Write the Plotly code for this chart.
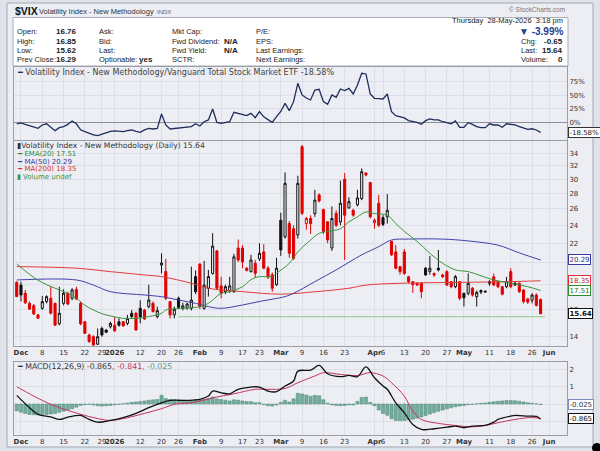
import numpy as np
import pandas as pd
import plotly.graph_objects as go

# trading calendar (NYSE holidays removed), Nov 28 2025 .. Jun 1 2026
holidays = ["2025-12-25", "2026-01-01", "2026-01-19", "2026-02-16", "2026-04-03", "2026-05-25"]
days = pd.bdate_range("2025-11-28", "2026-06-01")
days = days[~days.isin(pd.to_datetime(holidays))]

tick_dates = ["2025-12-01", "2025-12-08", "2025-12-15", "2025-12-22", "2025-12-29", "2026-01-02",
              "2026-01-12", "2026-01-20", "2026-01-26", "2026-02-02", "2026-02-09", "2026-02-17",
              "2026-02-23", "2026-03-02", "2026-03-09", "2026-03-16", "2026-03-23", "2026-04-01",
              "2026-04-06", "2026-04-13", "2026-04-20", "2026-04-27", "2026-05-01", "2026-05-11",
              "2026-05-18", "2026-05-26", "2026-06-01"]
tick_labels = ["<b>Dec</b>", "8", "15", "22", "29", "<b>2026</b>", "12", "20", "26", "<b>Feb</b>", "9", "17",
               "23", "<b>Mar</b>", "9", "16", "23", "<b>Apr</b>", "6", "13", "20", "27", "<b>May</b>", "11",
               "18", "26", "<b>Jun</b>"]

# daily VIX candles
opens = [18.2, 17.97, 17.27, 16.45, 16.27, 15.56, 16.06, 16.59, 16.86, 16.45, 14.9, 16.45, 17.27, 16.86,
         17.6, 16.45, 15.05, 14.12, 14.0, 13.5, 14.57, 14.46, 14.69, 14.8, 15.05, 15.05, 14.93, 15.68,
         15.68, 16.06, 15.93, 16.19, 16.45, 15.43, 19.8, 19.18, 16.59, 15.56, 16.86, 16.06, 16.1, 16.06,
         18.72, 19.9, 16.06, 17.7, 19.02, 21.2, 17.9, 17.41, 17.5, 17.41, 21.5, 21.5, 19.5, 19.18,
         19.97, 20.4, 21.1, 19.5, 18.9, 18.0, 24.6, 22.7, 24.2, 23.6, 22.9, 35.1, 24.2, 24.8,
         25.4, 27.8, 25.9, 24.4, 21.5, 25.43, 24.4, 30.0, 26.1, 25.8, 26.5, 27.3, 30.9, 29.5,
         24.3, 26.7, 24.9, 25.0, 22.2, 21.1, 19.65, 21.1, 18.7, 18.27, 18.12, 18.13, 19.5, 19.2,
         19.0, 19.5, 18.87, 19.18, 18.27, 17.83, 18.27, 17.27, 17.27, 17.7, 16.99, 17.5, 17.45, 18.27,
         18.7, 18.27, 17.83, 17.83, 19.18, 18.13, 18.13, 17.55, 16.8, 16.7, 17.13, 16.76]
highs = [18.3, 18.27, 17.55, 16.6, 16.4, 15.6, 17.05, 17.1, 17.83, 16.5, 17.83, 17.6, 17.4, 17.7,
         17.83, 16.6, 15.1, 14.2, 14.1, 14.57, 14.7, 14.5, 15.05, 15.4, 15.3, 15.1, 15.56, 15.93,
         15.8, 16.7, 16.0, 18.0, 16.6, 16.19, 20.96, 20.4, 16.6, 16.2, 17.0, 16.5, 16.5, 19.65,
         19.3, 19.95, 20.2, 19.34, 23.1, 21.3, 18.7, 18.0, 18.7, 20.9, 22.4, 21.8, 19.6, 20.8,
         20.3, 22.0, 21.9, 19.7, 19.1, 20.5, 25.5, 31.0, 24.5, 24.0, 30.5, 35.4, 25.0, 25.2,
         28.5, 28.0, 26.0, 24.5, 26.3, 25.8, 29.8, 30.9, 27.5, 26.0, 28.5, 31.6, 31.0, 29.6,
         24.8, 27.8, 25.2, 27.9, 22.2, 21.8, 19.7, 21.4, 18.8, 18.3, 18.2, 18.2, 19.6, 20.7,
         19.1, 21.3, 19.0, 19.3, 18.3, 18.87, 18.3, 17.3, 19.02, 17.8, 17.5, 17.6, 17.5, 18.4,
         19.0, 18.3, 17.9, 18.7, 19.5, 18.3, 18.2, 17.6, 16.9, 17.27, 17.27, 16.85]
lows = [16.95, 16.6, 16.4, 15.95, 15.55, 15.28, 15.94, 16.45, 15.6, 14.75, 14.8, 16.3, 16.3, 16.7,
        16.72, 14.8, 14.2, 13.6, 13.4, 13.45, 14.0, 14.25, 14.57, 14.35, 14.7, 14.7, 14.8, 15.3,
        14.4, 14.93, 15.2, 16.06, 15.75, 15.3, 19.0, 16.7, 15.3, 15.3, 16.0, 15.9, 15.95, 15.9,
        17.2, 16.0, 15.95, 17.0, 18.9, 17.55, 16.86, 17.2, 17.3, 17.3, 20.1, 19.5, 19.2, 19.1,
        18.6, 20.2, 19.4, 18.5, 17.4, 17.9, 20.7, 22.5, 20.5, 20.3, 22.5, 25.2, 23.5, 23.0,
        25.0, 26.8, 23.0, 22.0, 21.2, 23.8, 24.0, 20.3, 26.0, 25.0, 26.3, 27.1, 30.4, 24.8,
        23.6, 23.8, 23.9, 24.2, 20.7, 19.4, 18.9, 18.9, 18.1, 17.3, 17.9, 16.86, 18.8, 18.9,
        18.7, 19.2, 18.6, 17.9, 17.7, 17.7, 16.7, 16.2, 17.1, 17.0, 16.2, 17.2, 17.3, 17.9,
        17.9, 17.7, 17.1, 17.7, 17.7, 17.9, 17.3, 16.45, 16.4, 16.45, 16.2, 15.62]
closes = [17.0, 17.13, 16.5, 16.0, 15.63, 15.31, 16.59, 16.99, 15.68, 14.8, 15.68, 17.27, 16.4, 17.55,
          16.8, 14.9, 14.23, 13.67, 13.45, 14.0, 14.12, 14.3, 14.93, 14.4, 14.8, 14.75, 15.3, 15.43,
          14.46, 15.4, 15.25, 16.72, 15.8, 15.88, 20.0, 16.86, 15.56, 15.99, 16.14, 16.25, 16.4, 16.72,
          17.41, 16.19, 17.97, 18.72, 21.7, 17.7, 17.27, 17.83, 17.9, 20.6, 20.29, 20.1, 19.3, 20.29,
          19.02, 20.96, 19.5, 18.7, 17.7, 19.5, 21.3, 29.4, 20.96, 20.45, 29.4, 25.43, 24.8, 24.2,
          27.1, 27.0, 23.3, 22.35, 24.8, 24.0, 26.7, 25.2, 26.9, 25.2, 27.4, 31.1, 30.6, 25.0,
          24.6, 24.0, 24.1, 25.8, 20.8, 19.5, 19.18, 19.0, 18.27, 18.0, 17.97, 17.4, 18.87, 19.5,
          18.87, 19.34, 18.72, 17.97, 17.83, 18.72, 16.86, 16.9, 18.13, 17.13, 17.35, 17.38, 17.4, 18.13,
          17.97, 17.83, 17.2, 18.27, 17.83, 17.97, 17.41, 16.59, 16.55, 17.13, 16.29, 15.64]

# overlays read at sample days
ema_i = [0, 5, 9, 12, 14, 16, 20, 22, 25, 28, 31, 34, 35, 39, 43, 45, 48, 50, 53, 55, 57, 60, 61, 64,
         66, 69, 71, 73, 76, 78, 80, 82, 84, 87, 89, 91, 94, 97, 100, 103, 106, 109, 112, 116, 120, 123]
ema_v = [19.9, 18.4, 17.7, 17.27, 16.86, 16.3, 15.65, 15.48, 15.3, 15.3, 15.43, 15.68, 15.93, 16.06,
         16.19, 16.45, 17.27, 17.41, 17.83, 18.45, 18.72, 18.72, 19.02, 19.97, 21.1, 22.35, 23.08, 23.3,
         23.6, 24.4, 25.0, 25.6, 25.4, 25.2, 24.2, 23.3, 22.2, 20.96, 19.97, 19.34, 19.18, 18.8, 18.42,
         18.13, 17.83, 17.51]
ma50_i = [0, 14, 18, 22, 30, 34, 38, 42, 45, 48, 53, 57, 63, 65, 70, 75, 81, 85, 88, 92, 100, 106,
          113, 118, 123]
ma50_v = [18.42, 18.42, 17.97, 17.41, 17.13, 16.99, 16.72, 16.45, 16.19, 16.06, 16.32, 16.6, 17.0,
          17.27, 18.27, 19.34, 20.8, 21.64, 22.35, 22.45, 22.45, 22.25, 21.8, 21.0, 20.29]
ma200_i = [0, 14, 22, 30, 34, 41, 45, 53, 62, 70, 78, 82, 90, 102, 113, 123]
ma200_v = [19.65, 19.5, 19.18, 18.87, 18.72, 18.13, 17.7, 17.41, 17.2, 17.4, 17.7, 17.97, 18.13, 18.2,
           18.25, 18.35]
vol_i = [38, 124]
vol_v = [15.42, 15.42]

# VIX / VTI relative performance, %
ratio = [-3.0, -1.0, -4.0, -6.9, -9.0, -11.2, -5.0, -2.8, -9.0, -15.5, -10.0, -8.1, -4.0, 2.4, -2.8,
         -14.0, -17.4, -21.0, -23.5, -24.8, -22.0, -20.4, -17.0, -16.1, -16.5, -17.4, -15.5, -14.3,
         -17.0, -18.6, -14.0, -11.2, -12.4, -11.2, 15.4, -5.0, -12.4, -11.5, -10.0, -9.5, -9.0, -8.1,
         -2.8, -6.9, 1.0, 4.3, 24.6, -0.1, -2.0, -1.0, 1.1, 18.4, 16.6, 14.0, 12.3, 16.6, 8.6, 19.7,
         10.0, 5.0, -0.1, 10.5, 20.0, 35.1, 21.5, 38.2, 72.2, 50.6, 45.0, 41.3, 59.8, 61.1, 38.2, 33.3,
         50.6, 46.3, 61.7, 58.6, 62.9, 52.4, 69.1, 90.7, 89.5, 52.4, 44.4, 44.0, 43.2, 52.4, 19.7, 12.3,
         10.5, 8.0, 3.0, 1.0, -0.1, -3.8, 3.0, 6.1, 4.3, 4.3, 1.0, -0.7, -2.8, 2.4, -9.3, -9.3, -0.7,
         -4.0, -8.1, -10.0, -10.0, -2.8, -5.0, -5.0, -9.3, -2.8, -4.0, -5.0, -8.0, -11.2, -13.0, -12.0,
         -14.3, -18.58]

# MACD(12,26,9)
macd_i = [0, 3, 5, 8, 10, 12, 15, 17, 19, 22, 25, 28, 31, 34, 36, 40, 43, 45, 46, 48, 50, 52, 55, 57,
          59, 61, 63, 65, 66, 69, 71, 73, 76, 78, 80, 82, 84, 86, 87, 89, 91, 93, 95, 98, 101, 103, 105,
          107, 110, 112, 113, 116, 117, 120, 122, 123]
macd_v = [0.5, -0.21, -0.6, -0.74, -0.89, -0.76, -0.66, -0.89, -1.05, -0.95, -0.79, -0.54, -0.21, 0.07,
          0.21, 0.21, 0.27, 0.46, 0.75, 0.65, 0.59, 0.85, 0.98, 0.98, 0.75, 0.71, 1.04, 1.33, 1.9, 1.96,
          2.23, 1.75, 1.58, 1.65, 1.58, 2.15, 1.52, 1.04, 0.85, 0.07, -0.5, -1.18, -1.47, -1.43, -1.34,
          -1.28, -1.37, -1.28, -1.24, -1.05, -0.89, -0.7, -0.66, -0.7, -0.72, -0.865]
sig_i = [0, 4, 8, 12, 16, 20, 22, 26, 30, 34, 37, 42, 46, 51, 56, 59, 63, 66, 70, 72, 76, 80, 83, 86,
         88, 91, 93, 95, 99, 103, 107, 110, 113, 117, 121, 123]
sig_v = [1.0, 0.46, -0.02, -0.37, -0.66, -0.89, -0.95, -0.79, -0.54, -0.27, -0.02, 0.11, 0.36, 0.59,
         0.85, 0.85, 0.9, 1.23, 1.62, 1.81, 1.71, 1.65, 1.81, 1.62, 1.23, 0.46, -0.41, -0.89, -1.12, -1.24,
         -1.32, -1.24, -1.08, -0.89, -0.78, -0.841]
hist = [-0.4, -0.48, -0.55, -0.6, -0.62, -0.63, -0.6, -0.6, -0.58, -0.55, -0.48, -0.42, -0.35, -0.28,
        -0.18, -0.08, -0.04, -0.02, -0.06, -0.1, -0.12, -0.1, -0.08, -0.05, -0.02, 0.02, 0.06, 0.1, 0.12,
        0.15, 0.18, 0.22, 0.24, 0.26, 0.5, 0.32, 0.26, 0.25, 0.24, 0.22, 0.2, 0.2, 0.24, 0.22, 0.28, 0.3,
        0.4, 0.3, 0.26, 0.22, 0.18, 0.24, 0.22, 0.18, 0.14, 0.14, 0.08, 0.08, -0.04, -0.1, -0.12, -0.06,
        0.1, 0.22, 0.12, 0.3, 0.62, 0.58, 0.52, 0.45, 0.5, 0.48, 0.25, 0.05, -0.05, -0.08, -0.1, -0.08,
        -0.05, -0.06, 0.15, 0.38, 0.4, 0.1, -0.1, -0.35, -0.55, -0.65, -0.85, -0.95, -0.96, -0.95, -0.92,
        -0.88, -0.82, -0.75, -0.66, -0.58, -0.5, -0.42, -0.35, -0.28, -0.22, -0.16, -0.12, -0.08, -0.04,
        -0.02, 0.02, 0.04, 0.06, 0.1, 0.13, 0.16, 0.18, 0.2, 0.2, 0.19, 0.16, 0.12, 0.08, 0.04, 0.01,
        -0.025]

W, H = 600, 451
PLOT_BG = "#f6f7fb"
GRID = "#dcdfe7"
idx = list(range(len(closes)))
tick_pos = [days.get_loc(pd.Timestamp(d)) for d in tick_dates]


def px(x):
    return x / W


def py(y):
    return 1 - y / H


fig = go.Figure()

# ratio panel
fig.add_trace(go.Scatter(x=idx, y=ratio, mode="lines", line=dict(color="#1f2d5c", width=1.3),
                         xaxis="x", yaxis="y", hoverinfo="skip"))

# price panel: candles split by close vs previous close (red / black)
for col, pick in (("#e00000", True), ("#111111", False)):
    sel = [i for i in idx if (i == 0 or closes[i] < closes[i - 1]) == pick]
    fig.add_trace(go.Candlestick(
        x=sel, open=[opens[i] for i in sel], high=[highs[i] for i in sel],
        low=[lows[i] for i in sel], close=[closes[i] for i in sel],
        increasing=dict(line=dict(color=col, width=1), fillcolor=PLOT_BG),
        decreasing=dict(line=dict(color=col, width=1), fillcolor=col),
        whiskerwidth=0, xaxis="x2", yaxis="y2", hoverinfo="skip"))

fig.add_trace(go.Scatter(x=vol_i, y=vol_v, mode="lines", line=dict(color="#8cc98c", width=1),
                         xaxis="x2", yaxis="y2", hoverinfo="skip"))
fig.add_trace(go.Scatter(x=ma200_i, y=ma200_v, mode="lines", line=dict(color="#e23b3b", width=1, shape="spline"),
                         xaxis="x2", yaxis="y2", hoverinfo="skip"))
fig.add_trace(go.Scatter(x=ma50_i, y=ma50_v, mode="lines", line=dict(color="#4040a8", width=1, shape="spline"),
                         xaxis="x2", yaxis="y2", hoverinfo="skip"))
fig.add_trace(go.Scatter(x=ema_i, y=ema_v, mode="lines", line=dict(color="#3a963a", width=1, shape="spline"),
                         xaxis="x2", yaxis="y2", hoverinfo="skip"))

# MACD panel
fig.add_trace(go.Bar(x=idx, y=hist, marker=dict(color="#73ab9c", line=dict(color="#4e8a7a", width=0.5)),
                     xaxis="x3", yaxis="y3", hoverinfo="skip"))
fig.add_trace(go.Scatter(x=sig_i, y=sig_v, mode="lines", line=dict(color="#c8325e", width=1, shape="spline"),
                         xaxis="x3", yaxis="y3", hoverinfo="skip"))
fig.add_trace(go.Scatter(x=macd_i, y=macd_v, mode="lines", line=dict(color="#111111", width=1.3, shape="spline"),
                         xaxis="x3", yaxis="y3", hoverinfo="skip"))

xr = [-0.64, 129.2]
xdom = [px(14), px(567)]
tickfont = dict(family="DejaVu Sans", size=7, color="#333333")
xbase = dict(range=xr, domain=xdom, tickvals=tick_pos, showgrid=True, gridcolor=GRID, gridwidth=1,
             zeroline=False, showline=True, mirror=True, linecolor="#9a9ea8", linewidth=1,
             ticks="", tickfont=tickfont, tickangle=0, automargin=False, fixedrange=True)
ybase = dict(side="right", showgrid=True, gridcolor=GRID, zeroline=False, showline=True, mirror=True,
             linecolor="#9a9ea8", linewidth=1, ticks="", tickfont=tickfont, automargin=False,
             fixedrange=True)

# price labels hidden behind the last-value tags are left blank
price_ticks = list(range(14, 35, 2))
price_text = ["" if v in (18, 20) else str(v) for v in price_ticks]

fig.update_layout(
    width=W, height=H, margin=dict(l=0, r=0, t=0, b=0, autoexpand=False),
    paper_bgcolor="#dfe2e9", plot_bgcolor=PLOT_BG, showlegend=False, bargap=0.25,
    xaxis=dict(xbase, anchor="y", showticklabels=False),
    yaxis=dict(ybase, anchor="x", domain=[py(139.5), py(67)], range=[-31.9, 102.4],
               tickvals=[0, 25, 50, 75], ticktext=["0%", "25%", "50%", "75%"],
               zeroline=True, zerolinecolor="#8c8f96", zerolinewidth=1.2),
    xaxis2=dict(xbase, anchor="y2", ticktext=tick_labels, rangeslider=dict(visible=False)),
    yaxis2=dict(ybase, anchor="x2", type="log", domain=[py(346), py(140.5)], range=[1.1266, 1.5583],
                tickvals=price_ticks, ticktext=price_text),
    xaxis3=dict(xbase, anchor="y3", ticktext=tick_labels),
    yaxis3=dict(ybase, anchor="x3", domain=[py(435), py(361.5)], range=[-1.79, 2.457],
                tickvals=[-1, 0, 1, 2], ticktext=["", "", "1", "2"]),
)

shapes = [
    dict(type="rect", xref="paper", yref="paper", x0=px(7), x1=px(593), y0=py(447), y1=py(3),
         fillcolor="#eceef3", line=dict(color="#a4a8b2", width=1), layer="below"),
    dict(type="rect", xref="paper", yref="paper", x0=px(13), x1=px(568), y0=py(66), y1=py(17.5),
         fillcolor="#ffffff", line=dict(color="#a9adb6", width=1), layer="below"),
    dict(type="circle", xref="paper", yref="paper", x0=px(592), x1=px(602), y0=py(453), y1=py(443),
         fillcolor="#000000", line=dict(width=0)),
]

HF = "Liberation Sans"
LF = "DejaVu Sans"
ann = []


def txt(x, y, s, size=7.5, color="#222222", anchor="left", family=HF):
    ann.append(dict(xref="paper", yref="paper", x=px(x), y=py(y), text=s, showarrow=False,
                    xanchor=anchor, yanchor="middle", font=dict(family=family, size=size, color=color)))


# header
txt(13, 11, "<b>$VIX</b>", size=10.5, color="#111111")
txt(37, 11.5, "Volatility Index - New Methodology", size=7.5, color="#333333")
txt(155, 11.5, "INDX", size=6, color="#666666")
txt(567, 9.5, "© StockCharts.com", size=6.5, color="#777777", anchor="right")

rows = [31.5, 41, 50.3, 59.5]
for y, lab, val in zip(rows, ["Open:", "High:", "Low:", "Prev Close:"], ["16.76", "16.85", "15.62", "16.29"]):
    txt(15, y, lab)
    txt(53.5, y, "<b>" + val + "</b>", size=8)
for y, lab in zip(rows, ["Ask:", "Bid:", "Last:", "Optionable:"]):
    txt(97, y, lab)
txt(137, rows[3], "<b>yes</b>", size=8)
for y, lab in zip(rows, ["Mkt Cap:", "Fwd Dividend:", "Fwd Yield:", "SCTR:"]):
    txt(170, y, lab)
txt(222, rows[1], "<b>N/A</b>", size=8)
txt(222, rows[2], "<b>N/A</b>", size=8)
for y, lab in zip(rows, ["P/E:", "EPS:", "Last Earnings:", "Next Earnings:"]):
    txt(254, y, lab)

txt(565, 21, "Thursday  28-May-2026  3:18 pm", anchor="right")
txt(565, 31.5, "<b>▼ -3.99%</b>", size=10, color="#24408e", anchor="right")
for y, lab, val in zip(rows[1:], ["Chg:", "Last:", "Volume:"], ["-0.65", "15.64", "0"]):
    txt(518.5, y, lab)
    txt(565, y, "<b>" + val + "</b>", size=8, anchor="right")

# panel legends
txt(15, 72.5, "<span style='color:#1f2d5c'>━</span> Volatility Index - New Methodology/Vanguard Total Stock Market ETF -18.58%",
    size=8, color="#444444", family=LF)
txt(15, 145.5, "<span style='color:#333'>▮</span>Volatility Index - New Methodology (Daily) 15.64", size=7.6,
    color="#333333", family=LF)
txt(15, 154, "━ EMA(20) 17.51", size=7, color="#2f8a2f", family=LF)
txt(15, 161.6, "━ MA(50) 20.29", size=7, color="#3a3aa0", family=LF)
txt(15, 169.2, "━ MA(200) 18.35", size=7, color="#e03030", family=LF)
txt(15, 176.8, "▮ Volume undef", size=7, color="#3f8f3f", family=LF)
txt(15, 366, "━ MACD(12,26,9) -0.865<span style='color:#c8325e'>, -0.841</span><span style='color:#5e9c8c'>, -0.025</span>",
    size=7.8, color="#333333", family=LF)


# last-value boxes on the right axes
def tag(yref, y, s, border, color="#222222", bold=False):
    ann.append(dict(xref="paper", yref=yref, x=px(568), y=y, text=("<b>%s</b>" % s) if bold else s,
                    showarrow=False, xanchor="left", yanchor="middle", bgcolor="#ffffff",
                    bordercolor=border, borderwidth=1, borderpad=0.5,
                    font=dict(family=LF, size=7, color=color)))


tag("y", ratio[-1], "-18.58%", "#333333")
tag("y2", np.log10(ma50_v[-1]), "20.29", "#3a3aa0", "#2a2a80")
tag("y2", np.log10(ma200_v[-1]), "18.35", "#e03030", "#b02020")
tag("y2", np.log10(ema_v[-1]), "17.51", "#2f8a2f", "#1f6a1f")
tag("y2", np.log10(closes[-1]), "15.64", "#111111", "#111111", bold=True)
tag("y3", hist[-1], "-0.025", "#7d8cc0", "#333333")
tag("y3", macd_v[-1], "-0.865", "#111111", "#111111")

fig.update_layout(shapes=shapes, annotations=ann)
fig.write_html("out.html", config={"displayModeBar": False},
               post_script="document.body.style.margin='0';document.body.style.overflow='hidden';")
